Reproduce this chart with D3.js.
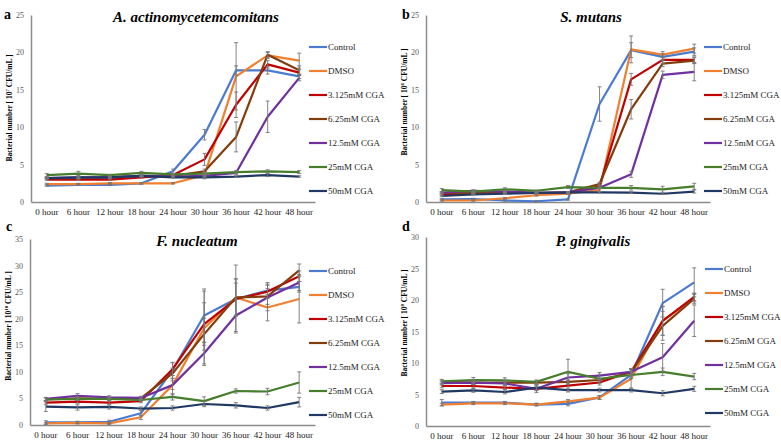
<!DOCTYPE html>
<html>
<head>
<meta charset="utf-8">
<script src="https://cdn.jsdelivr.net/npm/d3@7"></script>
<style>
  body { margin: 0; background: #fff; }
  svg { display: block; }
</style>
</head>
<body>
<svg id="chart" width="781" height="445"></svg>
<script>
//
// Data
//

var hours = ['0 hour', '6 hour', '12 hour', '18 hour', '24 hour', '30 hour', '36 hour', '42 hour', '48 hour']
var seriesNames = ['Control', 'DMSO', '3.125mM CGA', '6.25mM CGA', '12.5mM CGA', '25mM CGA', '50mM CGA']
var seriesColors = ['#4a7bd0', '#f08030', '#c00000', '#843c0c', '#7030a0', '#467e2c', '#203864']

// A. actinomycetemcomitans
var aValues = [
  [2.2, 2.3, 2.3, 2.5, 4.1, 9.0, 17.6, 17.6, 16.8],
  [2.4, 2.4, 2.5, 2.5, 2.5, 3.6, 16.8, 19.6, 18.9],
  [3.0, 3.0, 3.0, 3.3, 3.6, 5.7, 13.0, 18.4, 17.3],
  [3.2, 3.2, 3.3, 3.5, 3.5, 4.1, 8.7, 19.7, 17.6],
  [3.2, 3.3, 3.3, 3.5, 3.4, 3.5, 3.9, 11.4, 16.6],
  [3.6, 3.8, 3.6, 3.9, 3.7, 3.8, 4.0, 4.1, 4.0],
  [3.2, 3.3, 3.3, 3.5, 3.3, 3.3, 3.4, 3.6, 3.4]
]
var aErrors = [
  [0.1, 0.1, 0.1, 0.1, 0.3, 0.7, 0.6, 0.5, 0.3],
  [0.1, 0.1, 0.1, 0.1, 0.1, 0.3, 4.5, 0.4, 1.0],
  [0.1, 0.1, 0.1, 0.1, 0.2, 0.8, 1.7, 0.5, 0.4],
  [0.1, 0.1, 0.1, 0.1, 0.1, 0.3, 2.0, 0.4, 0.6],
  [0.1, 0.2, 0.1, 0.1, 0.1, 0.1, 0.2, 2.1, 0.4],
  [0.2, 0.3, 0.1, 0.2, 0.1, 0.2, 0.2, 0.2, 0.2],
  [0.1, 0.1, 0.1, 0.1, 0.1, 0.2, 0.1, 0.2, 0.1]
]

// S. mutans
var bValues = [
  [0.35, 0.4, 0.2, 0.1, 0.35, 13.1, 20.3, 19.4, 20.1],
  [0.2, 0.2, 0.5, 0.9, 1.1, 1.6, 20.4, 19.7, 20.5],
  [1.0, 1.1, 1.2, 1.2, 1.2, 2.1, 16.4, 19.0, 19.0],
  [1.2, 1.2, 1.3, 1.2, 1.3, 2.4, 12.4, 18.5, 18.9],
  [1.25, 1.5, 1.4, 1.25, 1.3, 1.9, 3.7, 17.0, 17.4],
  [1.6, 1.4, 1.7, 1.5, 2.0, 1.9, 1.9, 1.7, 2.1],
  [0.8, 1.0, 1.1, 1.2, 1.3, 1.3, 1.25, 1.1, 1.4]
]
var bErrors = [
  [0.1, 0.1, 0.1, 0.1, 0.1, 2.3, 1.0, 0.4, 0.5],
  [0.1, 0.1, 0.1, 0.1, 0.1, 0.2, 1.8, 0.4, 0.6],
  [0.1, 0.1, 0.1, 0.1, 0.1, 0.2, 0.8, 0.5, 0.4],
  [0.1, 0.1, 0.1, 0.1, 0.1, 0.2, 1.3, 0.4, 0.4],
  [0.1, 0.1, 0.1, 0.1, 0.1, 0.1, 0.4, 0.5, 1.2],
  [0.2, 0.2, 0.2, 0.1, 0.2, 0.1, 0.3, 0.4, 0.4],
  [0.1, 0.1, 0.1, 0.1, 0.1, 0.1, 0.1, 0.1, 0.2]
]

// F. nucleatum
var cValues = [
  [0.5, 0.5, 0.6, 2.2, 10.3, 20.6, 23.7, 25.3, 26.0],
  [0.3, 0.4, 0.3, 1.45, 7.5, 18.2, 24.0, 22.1, 23.7],
  [4.2, 4.4, 4.2, 4.5, 10.5, 19.0, 23.7, 25.1, 28.0],
  [4.8, 5.0, 4.9, 5.0, 9.7, 17.1, 24.0, 24.2, 29.1],
  [4.9, 5.5, 5.2, 5.1, 7.5, 13.5, 20.6, 24.0, 26.8],
  [4.8, 4.9, 4.9, 4.7, 5.3, 4.5, 6.4, 6.3, 8.0],
  [3.45, 3.3, 3.4, 3.1, 3.2, 3.95, 3.7, 3.2, 4.3]
]
var cErrors = [
  [0.3, 0.2, 0.3, 0.5, 1.5, 5.0, 6.4, 1.5, 1.0],
  [0.2, 0.2, 0.2, 0.4, 1.8, 7.0, 3.5, 2.5, 4.5],
  [0.4, 0.3, 0.3, 0.3, 1.2, 4.0, 3.0, 1.2, 1.0],
  [0.3, 0.3, 0.3, 0.3, 1.0, 3.0, 3.5, 1.5, 1.2],
  [0.3, 0.4, 0.3, 0.3, 0.8, 2.0, 3.0, 2.5, 1.5],
  [0.3, 0.3, 0.3, 0.3, 0.6, 0.8, 0.4, 0.6, 2.0],
  [0.9, 0.5, 0.4, 0.3, 0.4, 0.5, 0.5, 0.4, 0.9]
]

// P. gingivalis
var dValues = [
  [3.7, 3.7, 3.7, 3.4, 3.5, 4.55, 8.1, 19.5, 22.8],
  [3.4, 3.6, 3.6, 3.4, 3.9, 4.5, 7.5, 16.7, 20.3],
  [6.35, 6.35, 6.1, 5.9, 6.4, 6.9, 8.6, 16.7, 20.5],
  [7.0, 6.9, 6.9, 6.9, 7.0, 7.3, 8.5, 15.9, 20.2],
  [6.8, 6.9, 6.75, 5.9, 7.7, 8.0, 8.6, 10.9, 16.7],
  [7.1, 7.3, 7.25, 7.0, 8.6, 7.5, 8.1, 8.6, 7.85],
  [5.45, 5.65, 5.4, 6.1, 5.7, 5.7, 5.7, 5.2, 5.9]
]
var dErrors = [
  [0.5, 0.2, 0.2, 0.2, 0.3, 0.3, 0.5, 2.2, 2.3],
  [0.2, 0.2, 0.2, 0.2, 0.3, 0.3, 1.5, 2.3, 0.6],
  [0.3, 0.3, 0.3, 0.3, 0.8, 0.4, 0.5, 2.3, 0.6],
  [0.3, 0.3, 0.3, 0.3, 0.3, 0.3, 0.5, 2.3, 0.8],
  [0.3, 0.3, 0.3, 0.6, 0.6, 0.5, 0.5, 2.2, 2.5],
  [0.3, 0.4, 0.4, 0.3, 2.0, 0.7, 0.6, 0.6, 0.5],
  [0.3, 0.3, 0.3, 0.4, 0.3, 0.3, 0.3, 0.4, 0.4]
]

//
// Layout
//

var panels = [
  { letter: 'a', title: 'A. actinomycetemcomitans', exp: '7', values: aValues, errors: aErrors,
    yMax: 25, x0: 31, x1: 315, yTop: 15, yBot: 202, legX: 309, legY: 47, legStep: 24,
    letterX: 4, letterY: 19, titleX: 196, titleY: 22, labelX: 12, labelY: 108 },
  { letter: 'b', title: 'S. mutans', exp: '6', values: bValues, errors: bErrors,
    yMax: 25, x0: 426, x1: 710, yTop: 15, yBot: 202, legX: 704, legY: 47, legStep: 24,
    letterX: 402, letterY: 19, titleX: 591, titleY: 22, labelX: 407, labelY: 102 },
  { letter: 'c', title: 'F. nucleatum', exp: '10', values: cValues, errors: cErrors,
    yMax: 35, x0: 30, x1: 315, yTop: 239, yBot: 425, legX: 309, legY: 271, legStep: 24,
    letterX: 6, letterY: 231, titleX: 197, titleY: 246, labelX: 11, labelY: 326 },
  { letter: 'd', title: 'P. gingivalis', exp: '8', values: dValues, errors: dErrors,
    yMax: 30, x0: 426, x1: 710, yTop: 237, yBot: 426, legX: 705, legY: 269, legStep: 24,
    letterX: 402, letterY: 231, titleX: 593, titleY: 246, labelX: 407, labelY: 323 }
]

var axisColor = '#8c8c8c'
var tickColor = '#595959'
var errColor = '#767676'
var serif = '"Liberation Serif", "Times New Roman", serif'

var svg = d3.select('#chart')

function drawPanel(p) {
  var g = svg.append('g')
  var x = d3.scaleBand().domain(hours).range([p.x0, p.x1])
  var y = d3.scaleLinear().domain([0, p.yMax]).range([p.yBot, p.yTop])

  // y axis
  var yAxis = d3.axisLeft(y).ticks(p.yMax / 5).tickSize(0).tickPadding(7)
  var gy = g.append('g').attr('transform', 'translate(' + p.x0 + ',0)').call(yAxis)
  gy.select('.domain').attr('stroke', axisColor).attr('stroke-width', 1.5)
  gy.selectAll('text').attr('fill', tickColor)
    .style('font-family', serif).style('font-size', '8px')

  // x axis
  var xAxis = d3.axisBottom(x).tickSize(0).tickPadding(7)
  var gx = g.append('g').attr('transform', 'translate(0,' + p.yBot + ')').call(xAxis)
  gx.select('.domain').attr('stroke', axisColor).attr('stroke-width', 1.5)
  gx.selectAll('text').attr('fill', '#222')
    .style('font-family', serif).style('font-size', '9px')

  var line = d3.line()
    .x(function(d, i) { return x(hours[i]) + x.bandwidth() / 2 })
    .y(function(d) { return y(d) })

  // lines first, error bars on top
  p.values.forEach(function(vals, s) {
    g.append('path')
      .attr('d', line(vals))
      .attr('fill', 'none')
      .attr('stroke', seriesColors[s])
      .attr('stroke-width', 2.2)
      .attr('stroke-linejoin', 'round')
  })

  p.values.forEach(function(vals, s) {
    vals.forEach(function(v, i) {
      var cx = x(hours[i]) + x.bandwidth() / 2
      var e = p.errors[s][i]
      var top = y(Math.min(v + e, p.yMax)), bot = y(Math.max(v - e, 0))
      g.append('line').attr('x1', cx).attr('x2', cx).attr('y1', top).attr('y2', bot)
        .attr('stroke', errColor).attr('stroke-width', 0.9)
      ;[top, bot].forEach(function(yy) {
        g.append('line').attr('x1', cx - 2).attr('x2', cx + 2).attr('y1', yy).attr('y2', yy)
          .attr('stroke', errColor).attr('stroke-width', 0.9)
      })
    })
  })

  // legend
  seriesNames.forEach(function(name, s) {
    var ly = p.legY + s * p.legStep
    g.append('line').attr('x1', p.legX).attr('x2', p.legX + 18).attr('y1', ly).attr('y2', ly)
      .attr('stroke', seriesColors[s]).attr('stroke-width', 2.2)
    g.append('text').attr('x', p.legX + 19).attr('y', ly + 3)
      .attr('fill', '#222').style('font-family', serif).style('font-size', '9px').text(name)
  })

  // title
  g.append('text').attr('x', p.titleX).attr('y', p.titleY).attr('text-anchor', 'middle')
    .style('font-family', serif).style('font-size', '15px')
    .style('font-style', 'italic').style('font-weight', 'bold').text(p.title)

  // panel letter
  g.append('text').attr('x', p.letterX).attr('y', p.letterY)
    .style('font-family', serif).style('font-size', '14px').style('font-weight', 'bold')
    .text(p.letter)

  // y label
  var lab = g.append('text')
    .attr('transform', 'translate(' + p.labelX + ',' + p.labelY + ') rotate(-90)')
    .attr('text-anchor', 'middle')
    .style('font-family', serif).style('font-size', '7.5px').style('font-weight', 'bold')
  lab.append('tspan').text('Bacterial number [ 10')
  lab.append('tspan').attr('dy', -3).style('font-size', '5px').text(p.exp)
  lab.append('tspan').attr('dy', 3).text(' CFU/mL ]')
}

panels.forEach(drawPanel)
</script>
</body>
</html>
